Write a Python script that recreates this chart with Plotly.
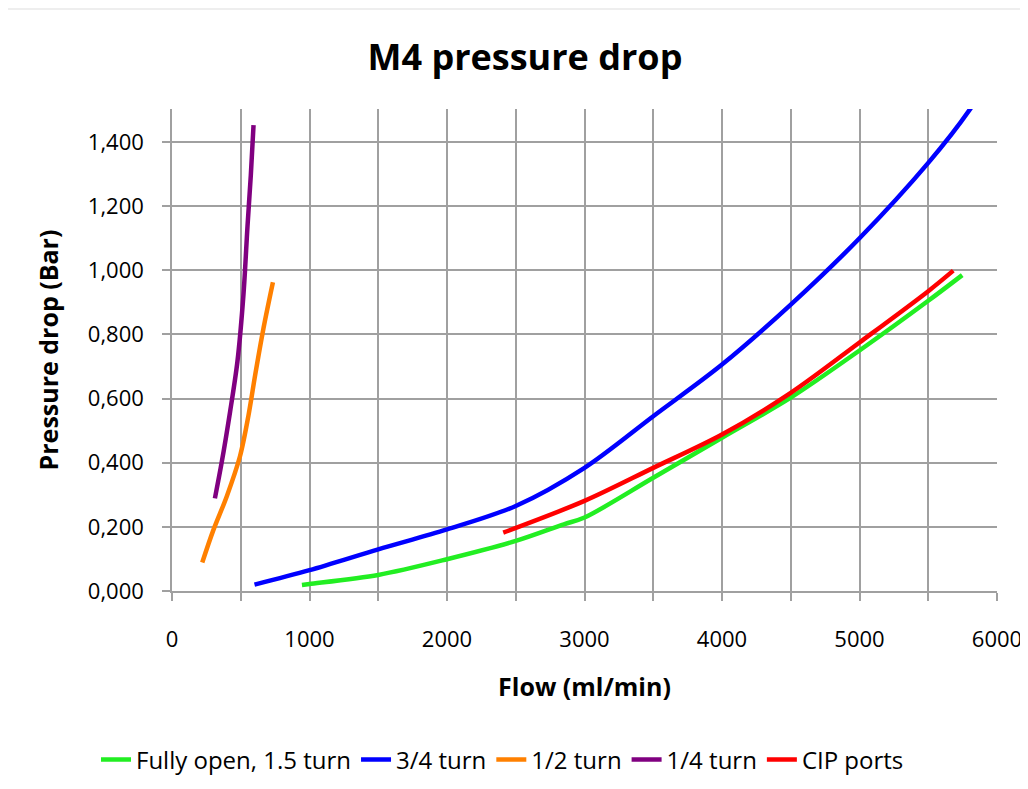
import plotly.graph_objects as go

# ---- data ----
green_x = [945, 1000, 1500, 2000, 2500, 2850, 3000, 3500, 4000, 4500, 5000, 5500, 5747]
green_y = [0.019, 0.022, 0.05, 0.099, 0.156, 0.208, 0.229, 0.353, 0.478, 0.603, 0.750, 0.905, 0.985]

blue_x = [600, 1000, 1500, 2000, 2500, 3000, 3500, 4000, 4500, 5000, 5500, 5800, 5900]
blue_y = [0.020, 0.065, 0.13, 0.192, 0.265, 0.384, 0.545, 0.706, 0.893, 1.100, 1.335, 1.50, 1.57]

orange_x = [220, 300, 398, 495, 556, 605, 666, 734]
orange_y = [0.089, 0.189, 0.295, 0.421, 0.547, 0.674, 0.821, 0.963]

purple_x = [312, 361, 422, 476, 520, 549, 573, 593]
purple_y = [0.289, 0.40, 0.558, 0.716, 0.926, 1.137, 1.295, 1.453]

red_x = [2409, 3000, 3500, 4000, 4500, 5000, 5500, 5682]
red_y = [0.182, 0.281, 0.384, 0.488, 0.618, 0.775, 0.935, 0.999]

series_names = ["Fully open, 1.5 turn", "3/4 turn", "1/2 turn", "1/4 turn", "CIP ports"]
series_colors = ["#22EE22", "#0000FF", "#FF8000", "#800080", "#FF0000"]

y_tickvals = [0, 0.2, 0.4, 0.6, 0.8, 1.0, 1.2, 1.4]
y_ticktext = ["0,000", "0,200", "0,400", "0,600", "0,800", "1,000", "1,200", "1,400"]
x_tickvals = [0, 500, 1000, 1500, 2000, 2500, 3000, 3500, 4000, 4500, 5000, 5500, 6000]
x_ticktext = ["0", "", "1000", "", "2000", "", "3000", "", "4000", "", "5000", "", "6000"]

FONT = "Open Sans"
GRID = "#A0A0A0"

# page body has an 8px margin, so the figure is sized 1020x781
W, H = 1020, 781
ML, MR, MT, MB = 164, 31, 101, 198
PW, PH = W - ML - MR, H - MT - MB

fig = go.Figure()
for xs, ys, name, col in zip(
    [green_x, blue_x, orange_x, purple_x, red_x],
    [green_y, blue_y, orange_y, purple_y, red_y],
    series_names, series_colors,
):
    fig.add_trace(go.Scatter(
        x=xs, y=ys, name=name, mode="lines",
        line=dict(color=col, width=4.5, shape="spline", smoothing=0.9),
    ))

fig.update_layout(
    width=W, height=H,
    paper_bgcolor="white", plot_bgcolor="white",
    margin=dict(l=ML, r=MR, t=MT, b=MB, autoexpand=False),
    font=dict(family=FONT, color="#000000"),
    title=dict(text="<b>M4 pressure drop</b>", x=517 / W, xanchor="center",
               y=1 - 49 / H, yanchor="middle",
               font=dict(size=36, family=FONT, color="#000000")),
    showlegend=True,
    legend=dict(orientation="h", x=(88 - ML) / PW, xanchor="left",
                y=-(752 - (MT + PH)) / PH, yanchor="middle",
                font=dict(size=24, family=FONT, color="#000000"),
                itemwidth=30, tracegroupgap=0),
    xaxis=dict(
        range=[0, 6000], tickvals=x_tickvals, ticktext=x_ticktext,
        showgrid=True, gridcolor=GRID, gridwidth=1.5,
        showline=True, linecolor=GRID, linewidth=1.5,
        ticks="outside", ticklen=8, tickcolor=GRID, tickwidth=1.5,
        ticklabelstandoff=20, automargin=False,
        tickfont=dict(size=22, family=FONT, color="#000000"),
        title=dict(text="<b>Flow (ml/min)</b>", standoff=26,
                   font=dict(size=25, family=FONT, color="#000000")),
        zeroline=False, fixedrange=True,
    ),
    yaxis=dict(
        range=[0, 1.503], tickvals=y_tickvals, ticktext=y_ticktext,
        showgrid=True, gridcolor=GRID, gridwidth=1.5,
        showline=True, linecolor=GRID, linewidth=1.5,
        ticks="outside", ticklen=8, tickcolor=GRID, tickwidth=1.5,
        ticklabelstandoff=14, automargin=False,
        tickfont=dict(size=22, family=FONT, color="#000000"),
        title=dict(text="<b>Pressure drop (Bar)</b>", standoff=22,
                   font=dict(size=25, family=FONT, color="#000000")),
        zeroline=False, fixedrange=True,
    ),
)

fig.add_shape(type="line", xref="paper", yref="paper",
              x0=-ML / PW, x1=1 + MR / PW, y0=1 + (MT - 1) / PH, y1=1 + (MT - 1) / PH,
              line=dict(color="#DDDDDD", width=1))

fig.write_html("out.html")
